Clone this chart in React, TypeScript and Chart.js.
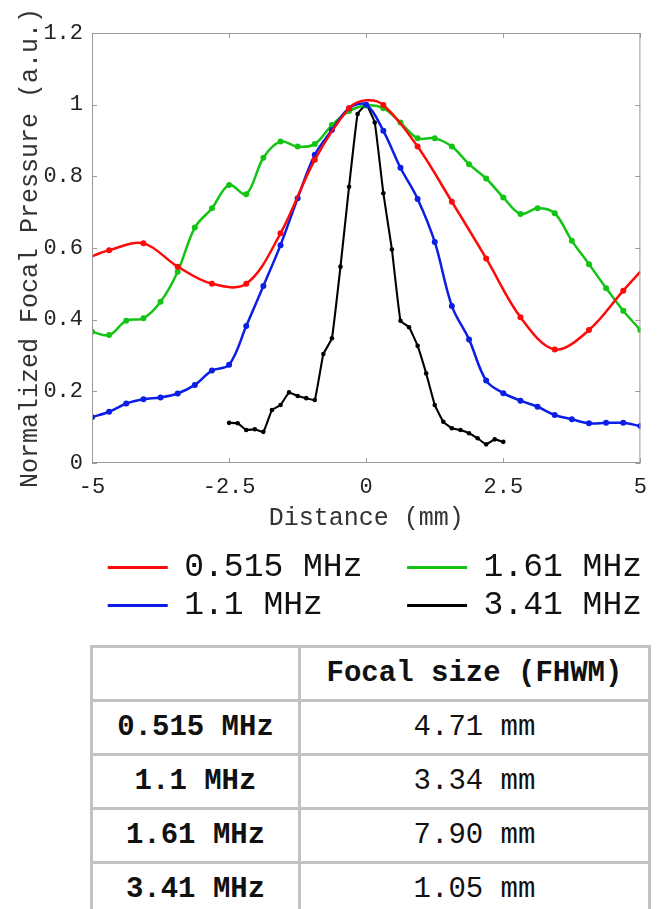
import React, { useEffect, useRef } from 'react';
import { Chart, registerables } from 'chart.js';

Chart.register(...registerables);

// ---- data ----
const seriesLabels = ['0.515 MHz', '1.1 MHz', '1.61 MHz', '3.41 MHz'];
const seriesColors = ['#ff0a0a', '#0a1ee6', '#14c414', '#000000'];

// 0.515 MHz (markers every 0.625 mm; edges and peak read as unmarked points)
const redX = [-5, -4.6875, -4.0625, -3.4375, -2.8125, -2.1875, -1.5625, -0.9375, -0.3125, 0, 0.3125, 0.9375, 1.5625, 2.1875, 2.8125, 3.4375, 4.0625, 4.6875, 5];
const redY = [0.577, 0.594, 0.613, 0.548, 0.5, 0.5, 0.641, 0.846, 0.99, 1.012, 0.999, 0.883, 0.729, 0.571, 0.407, 0.317, 0.371, 0.481, 0.534];

// 1.1 MHz
const blueX = [-5, -4.6875, -4.375, -4.0625, -3.75, -3.4375, -3.125, -2.8125, -2.5, -2.1875, -1.875, -1.5625, -1.25, -0.9375, -0.625, -0.3125, 0, 0.3125, 0.625, 0.9375, 1.25, 1.5625, 1.875, 2.1875, 2.5, 2.8125, 3.125, 3.4375, 3.75, 4.0625, 4.375, 4.6875, 5];
const blueY = [0.128, 0.143, 0.166, 0.178, 0.183, 0.194, 0.218, 0.258, 0.274, 0.382, 0.494, 0.608, 0.739, 0.86, 0.929, 0.99, 1.0, 0.927, 0.824, 0.737, 0.617, 0.438, 0.345, 0.23, 0.195, 0.174, 0.157, 0.134, 0.122, 0.111, 0.112, 0.112, 0.103];

// 1.61 MHz
const greenX = blueX;
const greenY = [0.366, 0.357, 0.397, 0.404, 0.45, 0.534, 0.657, 0.711, 0.776, 0.75, 0.852, 0.897, 0.883, 0.89, 0.943, 0.982, 0.998, 0.99, 0.95, 0.906, 0.906, 0.883, 0.834, 0.794, 0.741, 0.695, 0.711, 0.697, 0.62, 0.555, 0.488, 0.425, 0.371];

// 3.41 MHz
const blackX = [-2.5, -2.34375, -2.1875, -2.03125, -1.875, -1.71875, -1.5625, -1.40625, -1.25, -1.09375, -0.9375, -0.78125, -0.625, -0.46875, -0.3125, -0.15625, 0, 0.15625, 0.3125, 0.46875, 0.625, 0.78125, 0.9375, 1.09375, 1.25, 1.40625, 1.5625, 1.71875, 1.875, 2.03125, 2.1875, 2.34375, 2.5];
const blackY = [0.112, 0.111, 0.092, 0.094, 0.087, 0.148, 0.162, 0.197, 0.187, 0.181, 0.176, 0.304, 0.348, 0.548, 0.771, 0.974, 1.0, 0.95, 0.753, 0.596, 0.397, 0.379, 0.327, 0.25, 0.162, 0.115, 0.097, 0.092, 0.083, 0.069, 0.052, 0.066, 0.059];

const xTickValues = [-5, -2.5, 0, 2.5, 5];
const yTickValues = [0, 0.2, 0.4, 0.6, 0.8, 1, 1.2];

const tableHeader = ['', 'Focal size (FHWM)'];
const focalSizes = ['4.71 mm', '3.34 mm', '7.90 mm', '1.05 mm'];

// legend order in the picture: column-major (0.515, 1.1 | 1.61, 3.41)
const legendRank = [0, 2, 1, 3];

const MONO = '"Liberation Mono", "DejaVu Sans Mono", monospace';

function pts(xs: number[], ys: number[]) {
  return xs.map((x, i) => ({ x, y: ys[i] }));
}

const onGrid = (x: number, step: number, offset: number) => {
  const k = (x - offset) / step;
  return Math.abs(k - Math.round(k)) < 0.01;
};

const frameTicks = {
  id: 'frameTicks',
  afterDatasetsDraw(chart: any) {
    const { ctx, chartArea: a, scales } = chart;
    const len = 5;
    ctx.save();
    ctx.strokeStyle = '#9a9a9a';
    ctx.lineWidth = 1;
    ctx.strokeRect(a.left + 0.5, a.top + 0.5, a.right - a.left - 1, a.bottom - a.top - 1);
    ctx.beginPath();
    scales.x.ticks.forEach((t: any) => {
      const px = Math.round(scales.x.getPixelForValue(t.value)) + 0.5;
      ctx.moveTo(px, a.bottom);
      ctx.lineTo(px, a.bottom - len);
      ctx.moveTo(px, a.top);
      ctx.lineTo(px, a.top + len);
    });
    scales.y.ticks.forEach((t: any) => {
      const py = Math.round(scales.y.getPixelForValue(t.value)) + 0.5;
      ctx.moveTo(a.left, py);
      ctx.lineTo(a.left + len, py);
      ctx.moveTo(a.right, py);
      ctx.lineTo(a.right - len, py);
    });
    ctx.stroke();
    ctx.restore();
  },
};

export default function App() {
  const ref = useRef<HTMLCanvasElement>(null);

  useEffect(() => {
    if (!ref.current) return;
    const mk = (i: number, data: any[], extra: any) => ({
      label: seriesLabels[i],
      data,
      borderColor: seriesColors[i],
      backgroundColor: seriesColors[i],
      pointBackgroundColor: seriesColors[i],
      pointBorderColor: seriesColors[i],
      borderWidth: 2.5,
      pointRadius: 3,
      pointBorderWidth: 0,
      tension: 0.35,
      ...extra,
    });
    const chart = new Chart(ref.current, {
      type: 'line',
      data: {
        datasets: [
          mk(0, pts(redX, redY), {
            pointRadius: (c: any) => (c.raw && onGrid(c.raw.x, 0.625, 0.3125) ? 3 : 0),
          }),
          mk(1, pts(blueX, blueY), {}),
          mk(2, pts(greenX, greenY), {}),
          mk(3, pts(blackX, blackY), { pointRadius: 2.3, borderWidth: 2.1, tension: 0.1 }),
        ],
      },
      plugins: [frameTicks],
      options: {
        animation: false,
        responsive: true,
        maintainAspectRatio: false,
        layout: { padding: { top: 25, right: 11, bottom: 4, left: 0 } },
        plugins: {
          tooltip: { enabled: false },
          legend: {
            display: true,
            position: 'bottom',
            fullSize: true,
            align: 'end',
            labels: {
              boxWidth: 60,
              boxHeight: 3,
              padding: 5,
              color: '#111',
              font: { family: MONO, size: 33 },
              generateLabels: (ch: any) =>
                ch.data.datasets.map((ds: any, i: number) => ({
                  text: legendRank[i] % 2 === 0 ? ds.label.padEnd(11, ' ') : ds.label,
                  fillStyle: ds.borderColor,
                  strokeStyle: ds.borderColor,
                  lineWidth: 0,
                  hidden: false,
                  datasetIndex: i,
                  fontColor: '#111',
                })),
              sort: (a: any, b: any) => legendRank[a.datasetIndex] - legendRank[b.datasetIndex],
            },
          },
        },
        scales: {
          x: {
            type: 'linear',
            min: -5,
            max: 5,
            afterFit: (s: any) => { s.height = 83; },
            afterBuildTicks: (s: any) => { s.ticks = xTickValues.map((v) => ({ value: v })); },
            grid: { display: false, drawTicks: false },
            border: { display: false },
            ticks: {
              padding: 11,
              color: '#222',
              font: { family: MONO, size: 22 },
              maxRotation: 0,
              callback: (v: any) => String(v),
            },
            title: {
              display: true,
              text: 'Distance (mm)',
              color: '#333',
              font: { family: MONO, size: 25 },
              padding: { top: 0, bottom: 13 },
            },
          },
          y: {
            type: 'linear',
            min: 0,
            max: 1.2,
            afterFit: (s: any) => { s.width = 84; },
            afterBuildTicks: (s: any) => { s.ticks = yTickValues.map((v) => ({ value: v })); },
            grid: { display: false, drawTicks: false },
            border: { display: false },
            ticks: {
              padding: 9,
              color: '#222',
              font: { family: MONO, size: 22 },
              callback: (v: any) => String(v),
            },
            title: {
              display: true,
              text: 'Normalized Focal Pressure (a.u.)',
              color: '#333',
              font: { family: MONO, size: 25 },
              padding: { top: 7, bottom: 0 },
            },
          },
        },
      },
    } as any);
    return () => chart.destroy();
  }, []);

  const cell: React.CSSProperties = {
    border: '3px solid #c2c2c2',
    height: 51,
    padding: 0,
    textAlign: 'center',
    verticalAlign: 'middle',
    color: '#111',
  };

  return (
    <div>
      <div style={{ position: 'relative', width: 650, height: 628 }}>
        <canvas ref={ref} />
      </div>
      <table
        style={{
          borderCollapse: 'collapse',
          width: 561,
          marginLeft: 82,
          marginTop: 9,
          fontFamily: MONO,
          fontSize: 29,
        }}
      >
        <thead>
          <tr>
            <th style={{ ...cell, width: 205 }}>{tableHeader[0]}</th>
            <th style={{ ...cell, fontWeight: 'bold' }}>{tableHeader[1]}</th>
          </tr>
        </thead>
        <tbody>
          {seriesLabels.map((lab, i) => (
            <tr key={lab}>
              <td style={{ ...cell, fontWeight: 'bold' }}>{lab}</td>
              <td style={cell}>{focalSizes[i]}</td>
            </tr>
          ))}
        </tbody>
      </table>
    </div>
  );
}
